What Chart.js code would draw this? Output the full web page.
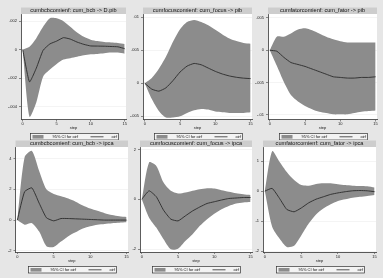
<!DOCTYPE html>
<html>
<head>
<meta charset="utf-8">
<script src="https://cdn.jsdelivr.net/npm/chart.js@4.4.1/dist/chart.umd.min.js"></script>
<style>
  body { margin: 0; background: #e6e6e6; width: 383px; height: 278px; overflow: hidden; position: relative; }
  canvas { position: absolute; }
</style>
</head>
<body>
<canvas id="p1"></canvas>
<canvas id="p2"></canvas>
<canvas id="p3"></canvas>
<canvas id="p4"></canvas>
<canvas id="p5"></canvas>
<canvas id="p6"></canvas>
<script>
const steps = [0, 1, 2, 3, 4, 5, 6, 7, 8, 9, 10, 11, 12, 13, 14, 15];
const stepTicks = [0, 5, 10, 15];

const titles = [
  "cumbcbcomienf: cum_bcb -> D.pib",
  "cumfocuscomienf: cum_focus -> pib",
  "cumfatorcomienf: cum_fator -> pib",
  "cumbcbcomienf: cum_bcb -> ipca",
  "cumfocuscomienf: cum_focus -> ipca",
  "cumfatorcomienf: cum_fator -> ipca",
];
const legendLabels = ["95% CI for oirf", "oirf"];

// bcb -> D.pib
const bcbPibOirf = [0, -0.00226, -0.0013, -0.00005, 0.0004, 0.0006, 0.00084, 0.00074, 0.00053, 0.00037, 0.00026, 0.00025, 0.00024, 0.00022, 0.0002, 0.00007];
const bcbPibUpper = [0, 0.0002, 0.0008, 0.0016, 0.0022, 0.0022, 0.002, 0.0016, 0.0012, 0.0009, 0.0007, 0.0006, 0.00053, 0.0005, 0.00047, 0.0004];
const bcbPibLower = [0, -0.0047, -0.0037, -0.0019, -0.0014, -0.001, -0.0007, -0.0006, -0.0005, -0.0004, -0.00033, -0.0003, -0.00025, -0.0002, -0.0002, -0.00028];
const bcbPibTicks = [-0.004, -0.002, 0, 0.002];

// focus -> pib
const focusPibOirf = [0, -0.0009, -0.0012, -0.0007, 0.0004, 0.0017, 0.0026, 0.003, 0.0028, 0.0023, 0.0018, 0.0014, 0.0011, 0.0009, 0.00077, 0.0007];
const focusPibUpper = [0, 0.0008, 0.0022, 0.004, 0.0063, 0.0082, 0.0093, 0.0096, 0.0093, 0.0088, 0.0081, 0.0074, 0.0068, 0.0064, 0.0061, 0.006];
const focusPibLower = [0, -0.0024, -0.0042, -0.0052, -0.0052, -0.005, -0.0045, -0.0041, -0.0039, -0.004, -0.0043, -0.0044, -0.0045, -0.0045, -0.0045, -0.0044];
const focusPibTicks = [-0.005, 0, 0.005, 0.01];

// fator -> pib
const fatorPibOirf = [0, -0.00015, -0.0011, -0.0019, -0.0022, -0.0025, -0.0029, -0.0033, -0.0037, -0.0041, -0.0042, -0.0043, -0.0043, -0.0042, -0.0042, -0.0041];
const fatorPibUpper = [0, 0.0021, 0.0021, 0.0026, 0.0032, 0.0034, 0.0031, 0.0026, 0.0021, 0.0017, 0.0014, 0.0012, 0.0012, 0.0012, 0.0012, 0.0012];
const fatorPibLower = [0, -0.0024, -0.0049, -0.0069, -0.0079, -0.0086, -0.0091, -0.0095, -0.0097, -0.0099, -0.0099, -0.0099, -0.0097, -0.0095, -0.0094, -0.0093];
const fatorPibTicks = [-0.01, -0.005, 0, 0.005];

// bcb -> ipca
const bcbIpcaOirf = [0, 1.85, 2.1, 1.1, 0.15, -0.05, 0.1, 0.1, 0.08, 0.06, 0.04, 0.02, 0, 0, 0, 0];
const bcbIpcaUpper = [0, 4.1, 4.5, 3.2, 2.0, 1.7, 1.55, 1.4, 1.2, 0.95, 0.75, 0.6, 0.45, 0.33, 0.25, 0.2];
const bcbIpcaLower = [0, -0.3, -0.2, -0.75, -1.7, -1.75, -1.4, -1.05, -0.8, -0.55, -0.4, -0.3, -0.25, -0.2, -0.18, -0.15];
const bcbIpcaTicks = [-2, 0, 2, 4];

// focus -> ipca
const focusIpcaOirf = [0, 0.34, 0.1, -0.44, -0.8, -0.87, -0.67, -0.47, -0.31, -0.17, -0.1, -0.03, 0.03, 0.05, 0.07, 0.07];
const focusIpcaUpper = [0, 1.48, 1.34, 0.67, 0.34, 0.23, 0.27, 0.34, 0.4, 0.44, 0.43, 0.36, 0.3, 0.24, 0.2, 0.17];
const focusIpcaLower = [0, -0.74, -1.14, -1.61, -2.01, -1.99, -1.68, -1.41, -1.07, -0.8, -0.58, -0.4, -0.27, -0.17, -0.13, -0.11];
const focusIpcaTicks = [-2, 0, 2];

// fator -> ipca
const fatorIpcaOirf = [0, 0.09, -0.24, -0.61, -0.69, -0.56, -0.39, -0.27, -0.19, -0.11, -0.06, -0.02, 0.01, 0.02, 0.01, -0.02];
const fatorIpcaUpper = [0, 1.33, 0.98, 0.64, 0.37, 0.2, 0.18, 0.24, 0.26, 0.26, 0.23, 0.2, 0.18, 0.17, 0.16, 0.12];
const fatorIpcaLower = [0, -1.19, -1.58, -1.86, -1.82, -1.47, -1.08, -0.78, -0.58, -0.44, -0.33, -0.27, -0.22, -0.19, -0.16, -0.13];
const fatorIpcaTicks = [-2, -1, 0, 1];

const BAND = "#8c8c8c";
const LINE = "#2a2a2a";
const FONT = "'Liberation Sans', Arial, sans-serif";
const X_AXIS_H = 11;

// panel boxes on the page, plot area given relative to the canvas
const panels = [
  { id: "p1", box: [0, 0, 130, 140], area: [21, 14, 126, 119.5], ymin: -0.0049, ymax: 0.0025, ticks: bcbPibTicks, oirf: bcbPibOirf, lo: bcbPibLower, hi: bcbPibUpper },
  { id: "p2", box: [130, 0, 125, 140], area: [13, 14, 122, 119.5], ymin: -0.0055, ymax: 0.0105, ticks: focusPibTicks, oirf: focusPibOirf, lo: focusPibLower, hi: focusPibUpper },
  { id: "p3", box: [255, 0, 128, 140], area: [13, 14, 122, 119.5], ymin: -0.0107, ymax: 0.0056, ticks: fatorPibTicks, oirf: fatorPibOirf, lo: fatorPibLower, hi: fatorPibUpper },
  { id: "p4", box: [0, 140, 130, 138], area: [15.5, 7, 128, 112], ymin: -2.08, ymax: 4.76, ticks: bcbIpcaTicks, oirf: bcbIpcaOirf, lo: bcbIpcaLower, hi: bcbIpcaUpper },
  { id: "p5", box: [130, 140, 125, 138], area: [10, 7, 122, 112], ymin: -2.12, ymax: 2.1, ticks: focusIpcaTicks, oirf: focusIpcaOirf, lo: focusIpcaLower, hi: focusIpcaUpper },
  { id: "p6", box: [255, 140, 128, 138], area: [8, 7, 121, 112], ymin: -2.03, ymax: 1.47, ticks: fatorIpcaTicks, oirf: fatorIpcaOirf, lo: fatorIpcaLower, hi: fatorIpcaUpper },
];

function fmt(v) {
  if (v === 0) return "0";
  return String(v).replace("0.", ".");
}

function pts(arr) {
  return steps.map((s, i) => ({ x: s, y: arr[i] }));
}

// white plot region, grey title strip and the boxed legend under each panel
const stataFrame = {
  id: "stataFrame",
  beforeDraw(chart) {
    const { ctx, chartArea: a } = chart;
    ctx.save();
    ctx.fillStyle = "#ffffff";
    ctx.fillRect(a.left, a.top, a.right - a.left, a.bottom - a.top);
    ctx.fillStyle = "#cdcdcd";
    ctx.fillRect(a.left, a.top - 6.5, a.right - a.left, 6.5);
    ctx.fillStyle = "#111";
    ctx.font = `5.6px ${FONT}`;
    ctx.textAlign = "center";
    ctx.textBaseline = "middle";
    ctx.fillText(chart.options.plugins.stataFrame.title, (a.left + a.right) / 2, a.top - 3.1);
    ctx.restore();
  },
  afterDraw(chart) {
    const { ctx, chartArea: a } = chart;
    const L = Math.round((a.left + a.right) / 2 - 44) + 0.5;
    const T = Math.round(a.bottom + 13.5) + 0.5;
    const mid = T + 3.3;
    ctx.save();
    ctx.fillStyle = "#f3f3f3";
    ctx.fillRect(L, T, 88, 6.5);
    ctx.strokeStyle = "#333";
    ctx.lineWidth = 0.7;
    ctx.strokeRect(L, T, 88, 6.5);
    ctx.fillStyle = BAND;
    ctx.fillRect(L + 2, T + 1.5, 11, 3.6);
    ctx.beginPath();
    ctx.moveTo(L + 60, mid);
    ctx.lineTo(L + 73, mid);
    ctx.strokeStyle = LINE;
    ctx.lineWidth = 0.8;
    ctx.stroke();
    ctx.fillStyle = "#111";
    ctx.font = `4px ${FONT}`;
    ctx.textBaseline = "middle";
    ctx.textAlign = "left";
    ctx.fillText(legendLabels[0], L + 22, mid);
    ctx.textAlign = "right";
    ctx.fillText(legendLabels[1], L + 86.5, mid);
    ctx.restore();
  },
};

panels.forEach((p, k) => {
  const [bx, by, bw, bh] = p.box;
  const [al, at, ar, ab] = p.area;
  const cv = document.getElementById(p.id);
  cv.width = bw;
  cv.height = bh;
  cv.style.left = bx + "px";
  cv.style.top = by + "px";
  cv.style.width = bw + "px";
  cv.style.height = bh + "px";

  new Chart(cv.getContext("2d"), {
    type: "line",
    data: {
      datasets: [
        { data: pts(p.oirf), borderColor: LINE, borderWidth: 0.9, pointRadius: 0, tension: 0.15, fill: false },
        { data: pts(p.lo), borderWidth: 0, pointRadius: 0, tension: 0.25, fill: false },
        { data: pts(p.hi), borderWidth: 0, pointRadius: 0, tension: 0.25, fill: "-1", backgroundColor: BAND },
      ],
    },
    options: {
      responsive: false,
      animation: false,
      devicePixelRatio: 1,
      layout: { padding: { left: 0, top: at, right: bw - ar, bottom: bh - ab - X_AXIS_H } },
      plugins: {
        legend: { display: false },
        tooltip: { enabled: false },
        stataFrame: { title: titles[k] },
      },
      scales: {
        x: {
          type: "linear",
          min: -0.25,
          max: 15.2,
          afterBuildTicks: (s) => { s.ticks = stepTicks.map((v) => ({ value: v })); },
          afterFit: (s) => { s.height = X_AXIS_H; },
          ticks: { color: "#222", font: { size: 4, family: FONT }, padding: 0, maxRotation: 0, autoSkip: false },
          grid: { drawOnChartArea: false, tickLength: 2, tickColor: "#444", tickWidth: 0.6 },
          border: { color: "#333", width: 0.8 },
          title: { display: true, text: "step", color: "#222", font: { size: 4, family: FONT }, padding: { top: 0, bottom: 0 } },
        },
        y: {
          min: p.ymin,
          max: p.ymax,
          afterBuildTicks: (s) => { s.ticks = p.ticks.map((v) => ({ value: v })); },
          afterFit: (s) => { s.width = al; },
          ticks: { color: "#222", font: { size: 4, family: FONT }, padding: 2, callback: (v) => fmt(v), autoSkip: false },
          grid: { color: "#ececec", lineWidth: 0.6, tickLength: 2, tickColor: "#444", tickWidth: 0.6 },
          border: { color: "#333", width: 0.8 },
        },
      },
    },
    plugins: [stataFrame],
  });
});
</script>
</body>
</html>
